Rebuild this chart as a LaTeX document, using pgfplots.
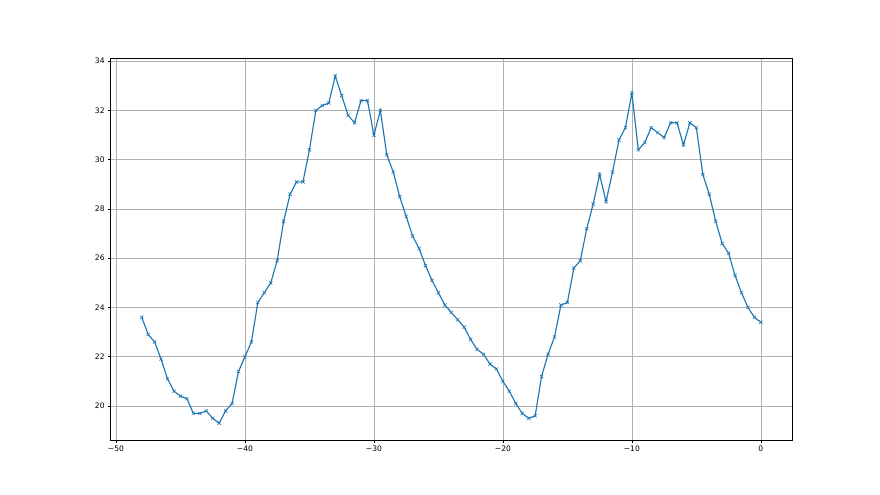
\documentclass[border=0pt]{standalone}
\usepackage{pgfplots}
\pgfplotsset{compat=1.18}
\usepackage{fontspec}
\setmainfont{DejaVu Sans}
\definecolor{mplblue}{HTML}{1F77B4}
\definecolor{gridgray}{HTML}{B0B0B0}
\begin{document}
\begin{tikzpicture}
\begin{axis}[
  scale only axis,
  width=681bp, height=382bp,
  at={(0,0)}, anchor=south west,
  xmin=-50.4, xmax=2.4,
  ymin=18.595, ymax=34.105,
  xtick={-50,-40,-30,-20,-10,0},
  ytick={20,22,24,26,28,30,32,34},
  grid=major,
  major grid style={gridgray, line width=0.6bp},
  axis line style={black, line width=0.6bp},
  tick style={black, line width=0.6bp},
  tick align=outside,
  major tick length=2.7bp,
  xtick pos=bottom, ytick pos=left,
  ticklabel style={font=\fontsize{7.6}{9}\selectfont},
  /pgf/number format/assume math mode=true,
  xticklabel={\pgfmathtruncatemacro\tv{\tick}\ifnum\tv<0 −\the\numexpr-\tv\relax\else\tv\fi},
  xticklabel style={yshift=1bp},
]
\addplot[mplblue, line width=1.15bp, mark=x, mark size=2.3bp, mark options={line width=0.6bp}] coordinates {
(-48,23.6)(-47.5,22.9)(-47,22.6)(-46.5,21.9)(-46,21.1)(-45.5,20.6)(-45,20.4)(-44.5,20.3)
(-44,19.7)(-43.5,19.7)(-43,19.8)(-42.5,19.5)(-42,19.3)(-41.5,19.8)(-41,20.1)(-40.5,21.4)
(-40,22.0)(-39.5,22.6)(-39,24.2)(-38.5,24.6)(-38,25.0)(-37.5,25.9)(-37,27.5)(-36.5,28.6)
(-36,29.1)(-35.5,29.1)(-35,30.4)(-34.5,32.0)(-34,32.2)(-33.5,32.3)(-33,33.4)(-32.5,32.6)
(-32,31.8)(-31.5,31.5)(-31,32.4)(-30.5,32.4)(-30,31.0)(-29.5,32.0)(-29,30.2)(-28.5,29.5)
(-28,28.5)(-27.5,27.7)(-27,26.9)(-26.5,26.4)(-26,25.7)(-25.5,25.1)(-25,24.6)(-24.5,24.1)
(-24,23.8)(-23.5,23.5)(-23,23.2)(-22.5,22.7)(-22,22.3)(-21.5,22.1)(-21,21.7)(-20.5,21.5)
(-20,21.0)(-19.5,20.6)(-19,20.1)(-18.5,19.7)(-18,19.5)(-17.5,19.6)(-17,21.2)(-16.5,22.1)
(-16,22.8)(-15.5,24.1)(-15,24.2)(-14.5,25.6)(-14,25.9)(-13.5,27.2)(-13,28.2)(-12.5,29.4)
(-12,28.3)(-11.5,29.5)(-11,30.8)(-10.5,31.3)(-10,32.7)(-9.5,30.4)(-9,30.7)(-8.5,31.3)
(-8,31.1)(-7.5,30.9)(-7,31.5)(-6.5,31.5)(-6,30.6)(-5.5,31.5)(-5,31.3)(-4.5,29.4)
(-4,28.6)(-3.5,27.5)(-3,26.6)(-2.5,26.2)(-2,25.3)(-1.5,24.6)(-1,24.0)(-0.5,23.6)
(0,23.4)
};
\end{axis}
\path[use as bounding box] (-110.8bp,-54.4bp) rectangle (769.2bp,440.6bp);
\end{tikzpicture}
\end{document}
